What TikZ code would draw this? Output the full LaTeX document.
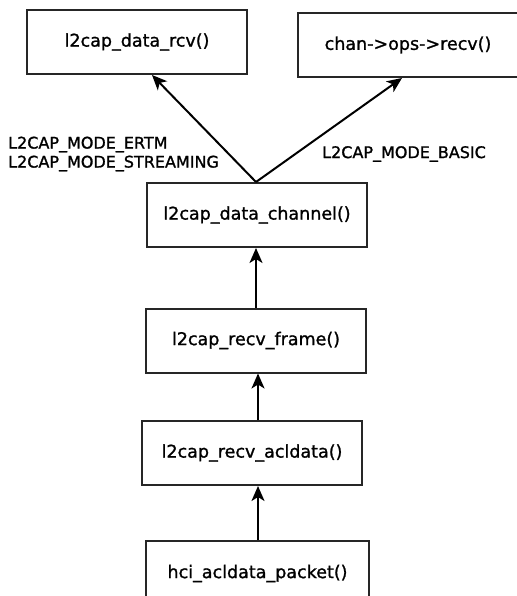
\documentclass[tikz,border=0pt]{standalone}
\usepackage{fontspec}
\setmainfont{DejaVu Sans}
\newfontfamily\embf{DejaVu Sans}[BoldFont={DejaVu Sans},BoldFeatures={FakeBold=1.2}]
\usetikzlibrary{arrows.meta,calc}
\tikzset{
  fbox/.style={draw=black!85, line width=2pt, minimum width=220pt, minimum height=64pt,
    inner sep=0pt, font=\embf\bfseries\fontsize{17.5}{20}\selectfont},
  lbl/.style={font=\embf\bfseries\fontsize{16}{19}\selectfont, inner sep=0pt, align=left, anchor=west},
  arr/.style={line width=2pt, -{Stealth[length=15pt,width=13pt,inset=4pt]}}
}
\begin{document}
\begin{tikzpicture}[x=1pt,y=-1pt]
\useasboundingbox (0,0) rectangle (516,596);
\node[fbox] (b1) at (137,42) {l2cap\_data\_rcv()};
\node[fbox] (b2) at (408,45) {chan->ops->recv()};
\node[fbox] (b3) at (257,215) {l2cap\_data\_channel()};
\node[fbox] (b4) at (256,340.5) {l2cap\_recv\_frame()};
\node[fbox] (b5) at (252,453) {l2cap\_recv\_acldata()};
\node[fbox, minimum width=223pt, minimum height=65pt] (b6) at (257.5,573.5) {hci\_acldata\_packet()};
\node[lbl] (l1) at (8,154) {L2CAP\_MODE\_ERTM\\L2CAP\_MODE\_STREAMING};
\node[lbl] (l2) at (322,154) {L2CAP\_MODE\_BASIC};
\coordinate (t1) at ([xshift=126pt]b1.south west);
\coordinate (t2) at ([xshift=105pt]b2.south west);
\coordinate (s3) at ([xshift=-1pt]b3.north);
\draw[arr] (s3) -- (t1);
\draw[arr] (s3) -- (t2);
\draw[arr] (b4.north) -- (b4.north |- b3.south);
\draw[arr] ([xshift=6pt]b5.north) -- ([xshift=6pt]b5.north |- b4.south);
\draw[arr] ([xshift=0.5pt]b6.north) -- ([xshift=0.5pt]b6.north |- b5.south);
\end{tikzpicture}
\end{document}
